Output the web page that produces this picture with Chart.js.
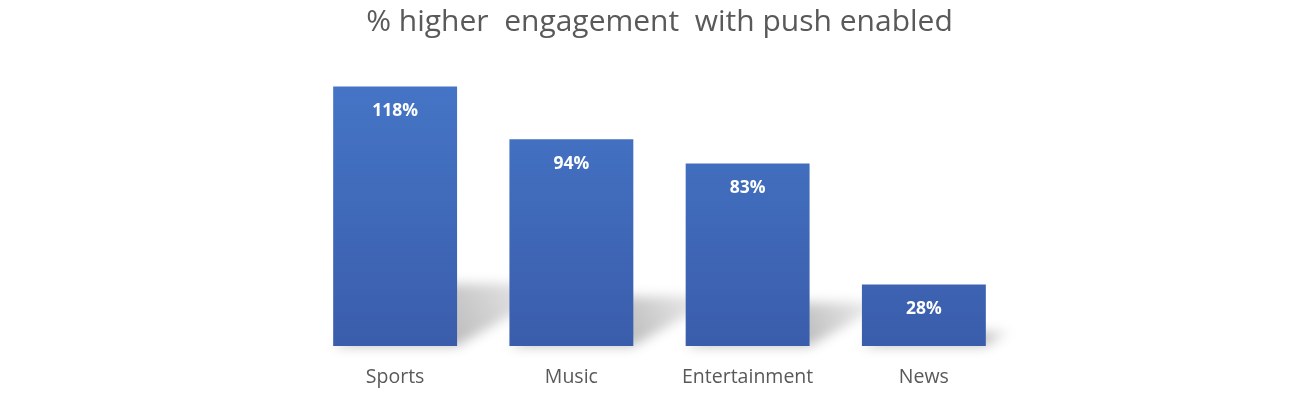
<!DOCTYPE html>
<html>
<head>
<meta charset="utf-8">
<style>
  html, body { margin: 0; padding: 0; background: #fff; }
  #wrap { width: 1297px; height: 393px; }
</style>
<script src="https://cdn.jsdelivr.net/npm/chart.js@4"></script>
</head>
<body>
<div id="wrap"><canvas id="myChart"></canvas></div>
<script>
// chart data
var categories = ['Sports', 'Music', 'Entertainment', 'News'];
var engagement = [118, 94, 83, 28];
var chartTitle = '% higher  engagement  with push enabled';

var ctx = document.getElementById('myChart').getContext('2d');

// soft floor shadow behind each bar
var barShadows = {
    id: 'barShadows',
    beforeDatasetsDraw: function (chart) {
        var c = chart.ctx;
        chart.getDatasetMeta(0).data.forEach(function (bar) {
            var h = bar.base - bar.y;
            var left = bar.x - bar.width / 2;
            var right = bar.x + bar.width / 2;
            var dx = h * 0.42, dy = h * 0.24;
            c.save();
            c.filter = 'blur(6px)';
            var g = c.createLinearGradient(right, bar.base, right + dx, bar.base - dy);
            g.addColorStop(0, 'rgba(0,0,0,0.26)');
            g.addColorStop(1, 'rgba(0,0,0,0.04)');
            c.fillStyle = g;
            c.beginPath();
            c.moveTo(left, bar.base);
            c.lineTo(right, bar.base);
            c.lineTo(right + dx, bar.base - dy);
            c.lineTo(left + dx, bar.base - dy);
            c.closePath();
            c.fill();
            c.restore();
        });
    }
};

// value labels inside the top of each bar
var valueLabels = {
    id: 'valueLabels',
    afterDatasetsDraw: function (chart) {
        var c = chart.ctx;
        c.save();
        c.fillStyle = '#ffffff';
        c.font = 'bold 17.5px "Open Sans", sans-serif';
        c.textAlign = 'center';
        c.textBaseline = 'middle';
        chart.getDatasetMeta(0).data.forEach(function (bar, i) {
            c.fillText(engagement[i] + '%', bar.x, bar.y + 24.5);
        });
        c.restore();
    }
};

var myChart = new Chart(ctx, {
    type: 'bar',
    data: {
        labels: categories,
        datasets: [{
            data: engagement,
            backgroundColor: function (context) {
                var area = context.chart.chartArea;
                if (!area) return '#4472c4';
                var g = context.chart.ctx.createLinearGradient(0, area.top, 0, area.bottom);
                g.addColorStop(0, '#4677c9');
                g.addColorStop(1, '#3a5dab');
                return g;
            },
            borderWidth: 0,
            categoryPercentage: 1,
            barPercentage: 0.703
        }]
    },
    options: {
        responsive: true,
        maintainAspectRatio: false,
        animation: false,
        layout: { padding: { left: 307, right: 285, top: 0, bottom: 0 } },
        plugins: {
            legend: { display: false },
            tooltip: { enabled: false },
            title: {
                display: true,
                text: chartTitle,
                color: '#595959',
                font: { family: '"Open Sans", sans-serif', size: 30, weight: 'normal' },
                padding: { top: 4, bottom: 20 }
            }
        },
        scales: {
            x: {
                grid: { display: false, drawTicks: false },
                border: { display: false },
                ticks: {
                    color: '#595959',
                    font: { family: '"Open Sans", sans-serif', size: 19.5 },
                    padding: 20
                },
                afterFit: function (axis) { axis.height = 47; }
            },
            y: {
                display: false,
                min: 0,
                max: 130
            }
        }
    },
    plugins: [barShadows, valueLabels]
});
</script>
</body>
</html>
